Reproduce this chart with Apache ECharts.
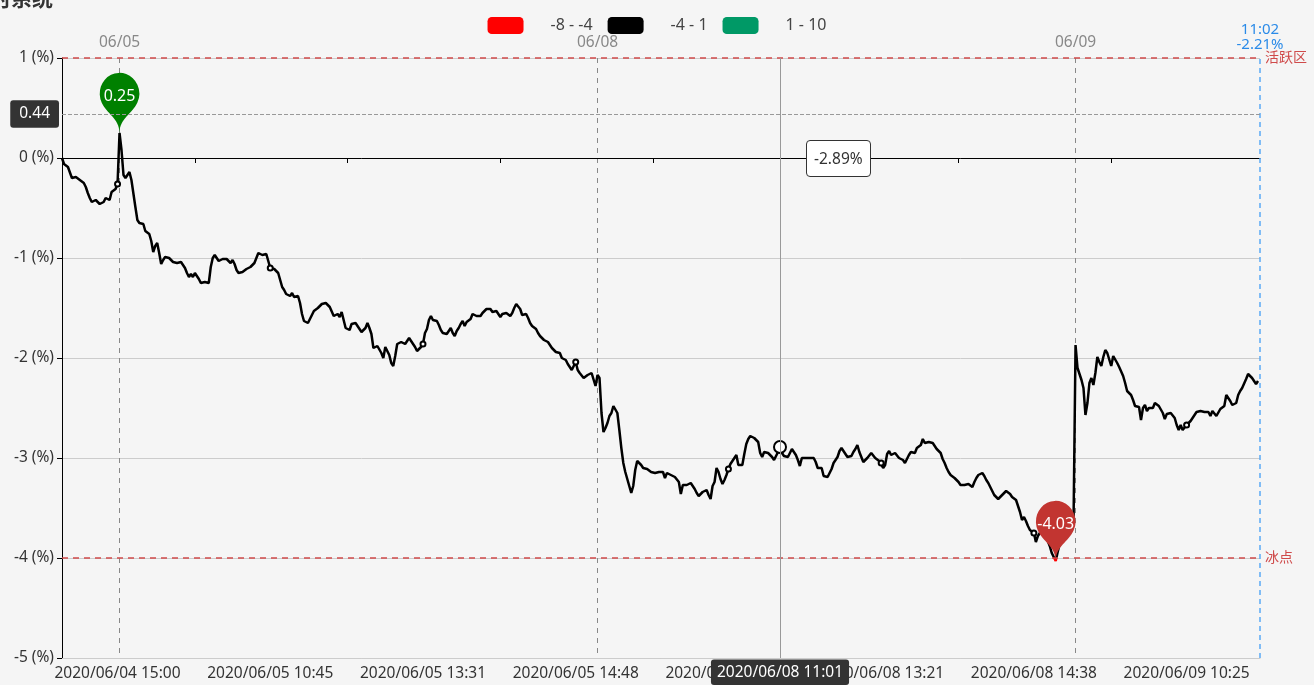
<!DOCTYPE html>
<html><head><meta charset="utf-8">
<script src="https://cdn.jsdelivr.net/npm/echarts@6/dist/echarts.min.js"></script>
<style>html,body{margin:0;padding:0;background:#f5f5f5;overflow:hidden}#c{width:1314px;height:685px}</style>
</head><body><div id="c"></div>
<script>
// trading sessions (category axis)
const tradeDays = ['2020/06/04','2020/06/05','2020/06/08','2020/06/09'];
const daySessions = [
  [['14:30','14:57'],['15:00','15:00']],
  [['09:25','09:25'],['09:30','11:30'],['13:00','14:57'],['15:00','15:00']],
  [['09:25','09:25'],['09:30','11:30'],['13:00','14:57'],['15:00','15:00']],
  [['09:25','09:25'],['09:30','11:02']]
];
const values = [
0.00,-0.06,-0.08,-0.09,-0.10,-0.20,-0.22,-0.19,-0.21,-0.22,
-0.24,-0.25,-0.29,-0.35,-0.40,-0.44,-0.46,-0.42,-0.41,-0.46,
-0.45,-0.44,-0.40,-0.39,-0.42,-0.34,-0.33,-0.31,-0.26,0.25,
0.08,-0.17,-0.20,-0.19,-0.14,-0.22,-0.24,-0.49,-0.62,-0.65,
-0.66,-0.66,-0.73,-0.75,-0.76,-0.83,-0.94,-0.88,-0.85,-0.95,
-1.06,-1.02,-0.99,-1.00,-1.00,-1.02,-1.04,-1.05,-1.05,-1.04,
-1.04,-1.05,-1.10,-1.15,-1.19,-1.16,-1.19,-1.15,-1.18,-1.21,
-1.25,-1.25,-1.24,-1.25,-1.25,-1.09,-1.00,-0.97,-0.99,-1.03,
-1.05,-1.01,-1.02,-1.01,-1.00,-1.05,-1.02,-1.06,-1.12,-1.15,
-1.16,-1.14,-1.13,-1.11,-1.10,-1.09,-1.09,-1.05,-1.00,-0.95,
-0.96,-0.97,-0.95,-0.96,-1.03,-1.10,-1.10,-1.11,-1.13,-1.15,
-1.22,-1.29,-1.32,-1.36,-1.38,-1.38,-1.35,-1.39,-1.37,-1.38,
-1.45,-1.56,-1.63,-1.65,-1.65,-1.64,-1.57,-1.53,-1.51,-1.50,
-1.49,-1.46,-1.44,-1.45,-1.47,-1.49,-1.50,-1.58,-1.57,-1.56,
-1.59,-1.54,-1.62,-1.70,-1.72,-1.72,-1.66,-1.64,-1.65,-1.68,
-1.70,-1.74,-1.72,-1.70,-1.65,-1.70,-1.76,-1.90,-1.90,-1.88,
-1.89,-1.95,-2.00,-1.89,-1.90,-1.97,-2.05,-2.08,-1.98,-1.86,
-1.84,-1.84,-1.86,-1.86,-1.84,-1.80,-1.83,-1.86,-1.89,-1.93,
-1.91,-1.89,-1.86,-1.75,-1.71,-1.62,-1.58,-1.62,-1.62,-1.63,
-1.67,-1.72,-1.75,-1.76,-1.76,-1.74,-1.70,-1.75,-1.78,-1.73,
-1.70,-1.66,-1.63,-1.68,-1.64,-1.63,-1.61,-1.56,-1.57,-1.58,
-1.58,-1.58,-1.55,-1.53,-1.51,-1.50,-1.51,-1.54,-1.53,-1.53,
-1.56,-1.59,-1.56,-1.56,-1.55,-1.56,-1.58,-1.55,-1.50,-1.46,
-1.46,-1.51,-1.57,-1.56,-1.56,-1.60,-1.65,-1.68,-1.70,-1.71,
-1.75,-1.78,-1.79,-1.82,-1.81,-1.84,-1.87,-1.90,-1.92,-1.94,
-1.93,-1.95,-2.00,-1.99,-2.02,-2.06,-2.08,-2.12,-2.08,-2.04,
-2.12,-2.15,-2.17,-2.20,-2.19,-2.17,-2.19,-2.15,-2.15,-2.28,
-2.17,-2.20,-2.55,-2.74,-2.70,-2.65,-2.58,-2.55,-2.48,-2.47,
-2.55,-2.72,-2.90,-3.05,-3.14,-3.16,-3.28,-3.35,-3.28,-3.12,
-3.03,-3.04,-3.07,-3.10,-3.12,-3.11,-3.13,-3.14,-3.16,-3.15,
-3.13,-3.14,-3.15,-3.14,-3.20,-3.15,-3.14,-3.17,-3.19,-3.19,
-3.20,-3.24,-3.36,-3.27,-3.29,-3.27,-3.28,-3.25,-3.26,-3.31,
-3.35,-3.38,-3.37,-3.34,-3.33,-3.32,-3.37,-3.41,-3.28,-3.24,
-3.10,-3.14,-3.21,-3.26,-3.22,-3.17,-3.11,-3.06,-3.03,-3.00,
-2.97,-3.07,-3.05,-3.07,-2.96,-2.86,-2.81,-2.78,-2.77,-2.80,
-2.81,-2.84,-2.95,-2.99,-2.94,-2.94,-2.95,-2.97,-2.99,-3.02,
-2.98,-2.94,-2.89,-2.95,-2.98,-2.99,-2.99,-2.97,-2.91,-2.94,
-2.97,-3.02,-3.08,-3.00,-3.02,-3.00,-2.99,-3.00,-2.99,-3.00,
-3.04,-3.10,-3.12,-3.10,-3.18,-3.19,-3.19,-3.17,-3.11,-3.05,
-3.03,-2.99,-2.93,-2.90,-2.88,-2.96,-2.99,-3.00,-2.98,-2.94,
-2.91,-2.87,-2.94,-2.99,-3.04,-3.03,-3.00,-3.02,-2.95,-2.97,
-3.00,-3.01,-3.03,-3.05,-3.10,-3.07,-2.96,-2.93,-2.97,-2.96,
-2.95,-2.97,-3.00,-2.99,-3.02,-3.05,-3.07,-2.97,-2.94,-2.95,
-2.95,-2.90,-2.89,-2.87,-2.81,-2.85,-2.84,-2.84,-2.84,-2.85,
-2.88,-2.91,-2.93,-2.95,-3.01,-3.05,-3.10,-3.14,-3.17,-3.18,
-3.20,-3.20,-3.24,-3.27,-3.26,-3.27,-3.26,-3.26,-3.25,-3.29,
-3.24,-3.20,-3.17,-3.16,-3.15,-3.18,-3.22,-3.25,-3.29,-3.33,
-3.37,-3.39,-3.41,-3.40,-3.37,-3.35,-3.33,-3.34,-3.36,-3.39,
-3.40,-3.42,-3.44,-3.54,-3.62,-3.59,-3.63,-3.68,-3.72,-3.74,
-3.75,-3.84,-3.78,-3.75,-3.76,-3.71,-3.78,-3.83,-3.88,-3.95,
-3.99,-4.03,-3.94,-3.86,-3.80,-3.74,-3.70,-3.68,-3.66,-3.64,
-3.62,-1.87,-2.10,-2.08,-2.22,-2.30,-2.57,-2.45,-2.25,-2.20,
-2.27,-2.15,-1.99,-2.04,-2.08,-1.99,-1.92,-1.95,-1.96,-2.08,
-1.98,-2.00,-2.05,-2.09,-2.11,-2.18,-2.25,-2.33,-2.35,-2.37,
-2.42,-2.48,-2.50,-2.49,-2.62,-2.50,-2.47,-2.53,-2.50,-2.51,
-2.50,-2.45,-2.46,-2.48,-2.47,-2.55,-2.61,-2.56,-2.57,-2.55,
-2.55,-2.60,-2.67,-2.72,-2.67,-2.72,-2.72,-2.67,-2.65,-2.63,
-2.60,-2.57,-2.54,-2.53,-2.53,-2.55,-2.54,-2.52,-2.54,-2.58,
-2.53,-2.51,-2.58,-2.56,-2.51,-2.50,-2.48,-2.37,-2.38,-2.43,
-2.47,-2.47,-2.45,-2.37,-2.33,-2.30,-2.28,-2.21,-2.16,-2.16,
-2.20,-2.22,-2.26,-2.23,-2.21
];
const pieceRanges = [[-8,-4],[-4,1],[1,10]];
const pieceLabels = ['-8 - -4','-4 - 1','1 - 10'];
const pieceColors = ['#ff0000','#000000','#009966'];
const upperLine = 1, upperName = '活跃区';
const lowerLine = -4, lowerName = '冰点';
const titleText = '情绪分时系统';

function toMin(s){const p=s.split(':');return (+p[0])*60+(+p[1]);}
function pad(n){return (n<10?'0':'')+n;}
const categories = [];
const dayStart = {};
tradeDays.forEach(function(d, di){
  if (di > 0) dayStart[categories.length] = true;
  daySessions[di].forEach(function(r){
    for (let m = toMin(r[0]); m <= toMin(r[1]); m++) categories.push(d + ' ' + pad(Math.floor(m/60)) + ':' + pad(m%60));
  });
});
const lastIdx = categories.length - 1;
const LABEL_FIRST = 28, LABEL_STEP = 77, TICK_FIRST = 67;

const FONT = '"Noto Sans", "Noto Sans CJK SC", sans-serif';
const chart = echarts.init(document.getElementById('c'));
const redC = '#cf4a4a';
chart.setOption({
  animation: false,
  backgroundColor: '#f5f5f5',
  textStyle: {fontFamily: FONT},
  graphic: [{type:'text', x: 53, y: 9, style:{text: titleText, align:'right', verticalAlign:'bottom', font:'bold 21px "Noto Sans CJK SC", sans-serif', fill:'#333'}}],
  grid: {left: 62, right: 54, top: 58, bottom: 27},
  visualMap: {
    type: 'piecewise', orient: 'horizontal', left: 'center', top: 2,
    dimension: 1, seriesIndex: 0,
    itemWidth: 36, itemHeight: 17, itemGap: 15, textGap: 27, itemSymbol: 'roundRect',
    textStyle: {color: '#444', fontSize: 16, fontFamily: FONT},
    pieces: pieceRanges.map(function(r, i){ return i === 0 ? {gte: r[0], lte: r[1], label: pieceLabels[i], color: pieceColors[i]} : {gt: r[0], lte: r[1], label: pieceLabels[i], color: pieceColors[i]}; })
  },
  tooltip: {
    trigger: 'axis', transitionDuration: 0,
    axisPointer: {type: 'cross', crossStyle: {color: '#999', type: 'dashed'}},
    backgroundColor: '#fff', borderColor: '#333', borderWidth: 1, borderRadius: 4, padding: [6, 7],
    textStyle: {color: '#333', fontSize: 15.5, fontFamily: FONT},
    extraCssText: 'box-shadow:none;',
    position: function(pt){ return [pt[0] + 26, pt[1] + 26]; },
    formatter: function(ps){ return ps[0].value.toFixed(2) + '%'; }
  },
  xAxis: [
    {type: 'category', data: categories, boundaryGap: false, position: 'bottom',
     axisLine: {onZero: false, lineStyle: {color: '#ccc'}}, axisTick: {show: false},
     axisLabel: {interval: function(i){ return i >= LABEL_FIRST && (i - LABEL_FIRST) % LABEL_STEP === 0; }, color: '#333', fontSize: 15.5, margin: 8},
     splitLine: {show: false},
     axisPointer: {type: 'line', lineStyle: {color: '#999', type: 'solid', width: 1}, label: {show: true, backgroundColor: '#333', color: '#fff', fontSize: 15.5, padding: [5, 6]}}},
    {type: 'category', data: categories, boundaryGap: false, position: 'top',
     axisLine: {show: false, onZero: false}, axisTick: {show: false},
     axisLabel: {interval: function(i){ return !!dayStart[i]; }, formatter: function(v){ return v.slice(5, 10); }, color: '#888', fontSize: 15.5, margin: 8},
     splitLine: {show: true, interval: function(i){ return !!dayStart[i]; }, lineStyle: {color: '#888', type: [5, 5], width: 1}},
     axisPointer: {show: false}},
    {type: 'category', data: categories, boundaryGap: false, position: 'bottom',
     axisLine: {onZero: true, onZeroAxisIndex: 0, lineStyle: {color: '#000', width: 1}},
     axisTick: {show: true, interval: function(i){ return i >= TICK_FIRST && (i - TICK_FIRST) % LABEL_STEP === 0; }, length: 5, lineStyle: {color: '#000'}},
     axisLabel: {show: false}, splitLine: {show: false},
     axisPointer: {show: false}}
  ],
  yAxis: {
    type: 'value', min: -5, max: 1, interval: 1,
    axisLine: {show: true, onZero: false, lineStyle: {color: '#000'}},
    axisTick: {show: true, length: 5, lineStyle: {color: '#000'}},
    axisLabel: {formatter: '{value} (%)', color: '#333', fontSize: 15.5, margin: 8},
    splitLine: {show: true, lineStyle: {color: '#ccc'}},
    axisPointer: {label: {show: true, backgroundColor: '#333', color: '#fff', fontSize: 15.5, padding: [6, 9], formatter: function(p){ return (+p.value).toFixed(2); }}}
  },
  series: [{
    type: 'line', data: values, xAxisIndex: 0, yAxisIndex: 0,
    symbol: 'emptyCircle', symbolSize: 5, showSymbol: true,
    lineStyle: {width: 2.5}, itemStyle: {borderWidth: 1},
    emphasis: {scale: 2.4, lineStyle: {width: 2.5}},
    markPoint: {
      symbol: 'pin', symbolSize: [66, 69],
      label: {color: '#fff', fontSize: 16, fontFamily: FONT},
      data: [
        {type: 'max', itemStyle: {color: '#008000'}},
        {type: 'min', itemStyle: {color: '#c23531'}}
      ]
    },
    markLine: {
      silent: true, symbol: ['none', 'none'],
      data: [
        {yAxis: upperLine, lineStyle: {color: redC, type: [6, 5], width: 1.5}, label: {formatter: upperName, color: redC, fontSize: 14, distance: 5}},
        {yAxis: lowerLine, lineStyle: {color: redC, type: [6, 5], width: 1.5}, label: {formatter: lowerName, color: redC, fontSize: 14, distance: 5}},
        {xAxis: categories[lastIdx], lineStyle: {color: '#5aa9f5', type: [5, 4], width: 1.5},
         label: {formatter: categories[lastIdx].slice(11) + '\n' + values[lastIdx].toFixed(2) + '%', color: '#2b8be8', fontSize: 15, lineHeight: 15, distance: 6}}
      ]
    }
  }]
});
chart.dispatchAction({type: 'showTip', x: 780, y: 114});
</script></body></html>
